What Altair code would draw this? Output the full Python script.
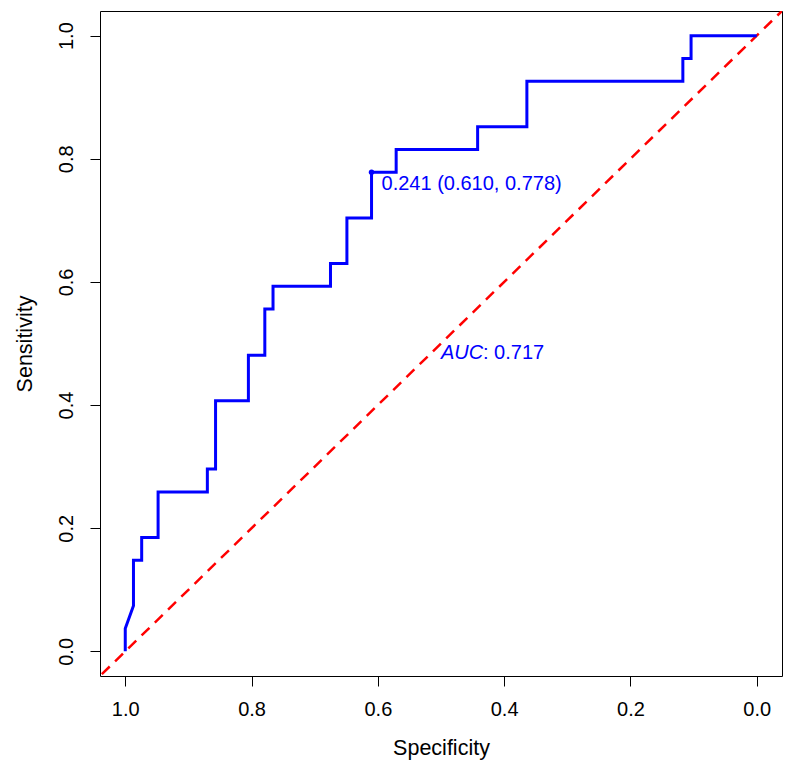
import altair as alt
import pandas as pd

# ROC curve path (specificity, sensitivity)
spec = [1.000, 1.000, 0.987, 0.987, 0.974, 0.974, 0.948, 0.948, 0.870, 0.870,
        0.857, 0.857, 0.805, 0.805, 0.779, 0.779, 0.766, 0.766, 0.675, 0.675,
        0.649, 0.649, 0.610, 0.610, 0.571, 0.571, 0.442, 0.442, 0.364, 0.364,
        0.117, 0.117, 0.104, 0.104, 0.000]
sens = [0.000, 0.037, 0.074, 0.148, 0.148, 0.185, 0.185, 0.259, 0.259, 0.296,
        0.296, 0.407, 0.407, 0.481, 0.481, 0.556, 0.556, 0.593, 0.593, 0.630,
        0.630, 0.704, 0.704, 0.778, 0.778, 0.815, 0.815, 0.852, 0.852, 0.926,
        0.926, 0.963, 0.963, 1.000, 1.000]

# chance diagonal (clipped to the plot area)
diag_spec = [1.1, -0.1]
diag_sens = [-0.1, 1.1]

# best threshold
thr_spec = [0.610]
thr_sens = [0.778]
thr_label = ["0.241 (0.610, 0.778)"]

# AUC label position
auc_spec = [0.5]
auc_sens = [0.5]
auc_name = ["AUC"]
auc_value = [": 0.717"]

ticks = [0.0, 0.2, 0.4, 0.6, 0.8, 1.0]

FONT = "Liberation Sans"

roc = pd.DataFrame({"spec": spec, "sens": sens, "order": list(range(len(spec)))})
diag = pd.DataFrame({"spec": diag_spec, "sens": diag_sens, "order": [0, 1]})
thr = pd.DataFrame({"spec": thr_spec, "sens": thr_sens, "label": thr_label})
auc = pd.DataFrame({"spec": auc_spec, "sens": auc_sens, "name": auc_name, "value": auc_value})

xscale = alt.Scale(domain=[-0.04, 1.04], reverse=True, nice=False, zero=False)
yscale = alt.Scale(domain=[-0.04, 1.04], nice=False, zero=False)

xaxis = alt.Axis(values=ticks, format=".1f", title="Specificity", grid=False, domain=False,
                 tickSize=10, tickColor="black", tickWidth=1,
                 labelFont=FONT, labelFontSize=20, labelColor="black", labelPadding=13,
                 labelBaseline="top",
                 titleFont=FONT, titleFontSize=21.5, titleFontWeight="normal", titleColor="black",
                 titleBaseline="alphabetic", titleY=78)
yaxis = alt.Axis(values=ticks, format=".1f", title="Sensitivity", grid=False, domain=False,
                 tickSize=10, tickColor="black", tickWidth=1,
                 labelFont=FONT, labelFontSize=20, labelColor="black", labelPadding=18,
                 labelAngle=-90, labelAlign="center", labelBaseline="alphabetic",
                 titleFont=FONT, titleFontSize=21.5, titleFontWeight="normal", titleColor="black",
                 titleBaseline="alphabetic", titleX=-69, titleAngle=-90)

x = alt.X("spec:Q", scale=xscale, axis=xaxis)
y = alt.Y("sens:Q", scale=yscale, axis=yaxis)

diag_line = alt.Chart(diag).mark_line(
    color="#FF0000", strokeWidth=2.5, strokeDash=[11, 7.5], clip=True
).encode(x=x, y=y, order="order:Q")

roc_line = alt.Chart(roc).mark_line(
    color="#0000FF", strokeWidth=3, interpolate="linear"
).encode(x=alt.X("spec:Q", scale=xscale), y=alt.Y("sens:Q", scale=yscale), order="order:Q")

thr_pt = alt.Chart(thr).mark_point(
    filled=True, color="#0000FF", size=30, opacity=1
).encode(x=alt.X("spec:Q", scale=xscale), y=alt.Y("sens:Q", scale=yscale))

thr_txt = alt.Chart(thr).mark_text(
    align="left", baseline="alphabetic", dx=10, dy=18, font=FONT, fontSize=20, color="#0000FF"
).encode(x=alt.X("spec:Q", scale=xscale), y=alt.Y("sens:Q", scale=yscale), text="label:N")

auc_txt1 = alt.Chart(auc).mark_text(
    align="left", baseline="alphabetic", dx=0, dy=15, font=FONT, fontSize=20,
    fontStyle="italic", color="#0000FF"
).encode(x=alt.X("spec:Q", scale=xscale), y=alt.Y("sens:Q", scale=yscale), text="name:N")

auc_txt2 = alt.Chart(auc).mark_text(
    align="left", baseline="alphabetic", dx=42, dy=15, font=FONT, fontSize=20, color="#0000FF"
).encode(x=alt.X("spec:Q", scale=xscale), y=alt.Y("sens:Q", scale=yscale), text="value:N")

chart = alt.layer(diag_line, roc_line, thr_pt, thr_txt, auc_txt1, auc_txt2).properties(
    width=682, height=665,
    autosize=alt.AutoSizeParams(type="none"),
    padding={"left": 92, "top": 3, "right": 7, "bottom": 85},
    background="white",
).configure_view(stroke="black", strokeWidth=1)

chart.save("out.html", embed_options={"renderer": "svg", "actions": False})
